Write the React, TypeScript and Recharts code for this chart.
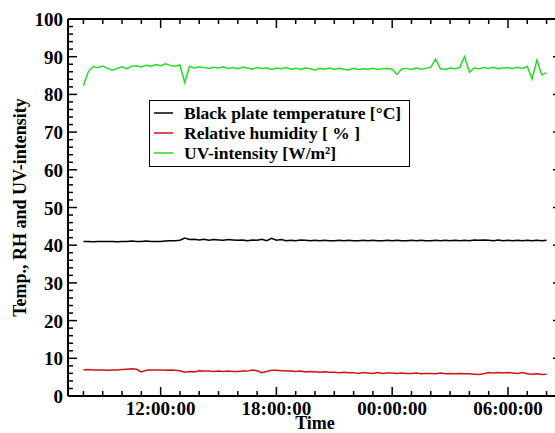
import React from 'react';
import { LineChart, Line, XAxis, YAxis, Legend } from 'recharts';

// Time in hours since 00:00 of the first day (15-minute samples)
const times = [
  8, 8.25, 8.5, 8.75, 9, 9.25, 9.5, 9.75, 10, 10.25, 10.5, 10.75,
  11, 11.25, 11.5, 11.75, 12, 12.25, 12.5, 12.75, 13, 13.25, 13.5, 13.75,
  14, 14.25, 14.5, 14.75, 15, 15.25, 15.5, 15.75, 16, 16.25, 16.5, 16.75,
  17, 17.25, 17.5, 17.75, 18, 18.25, 18.5, 18.75, 19, 19.25, 19.5, 19.75,
  20, 20.25, 20.5, 20.75, 21, 21.25, 21.5, 21.75, 22, 22.25, 22.5, 22.75,
  23, 23.25, 23.5, 23.75, 24, 24.25, 24.5, 24.75, 25, 25.25, 25.5, 25.75,
  26, 26.25, 26.5, 26.75, 27, 27.25, 27.5, 27.75, 28, 28.25, 28.5, 28.75,
  29, 29.25, 29.5, 29.75, 30, 30.25, 30.5, 30.75, 31, 31.25, 31.5, 31.75,
  32,
];

const blackPlate = [
  41.0, 41.0, 40.9, 41.0, 41.0, 41.0, 41.0, 40.9, 41.0, 41.0, 41.1, 41.0,
  41.0, 41.1, 41.0, 41.0, 41.0, 41.1, 41.2, 41.2, 41.3, 41.9, 41.5, 41.6,
  41.4, 41.6, 41.3, 41.5, 41.4, 41.3, 41.5, 41.4, 41.3, 41.4, 41.2, 41.4,
  41.3, 41.6, 41.2, 41.8, 41.3, 41.5, 41.2, 41.3, 41.2, 41.4, 41.3, 41.2,
  41.3, 41.2, 41.3, 41.2, 41.2, 41.3, 41.2, 41.3, 41.2, 41.2, 41.3, 41.2,
  41.3, 41.2, 41.2, 41.3, 41.2, 41.3, 41.2, 41.2, 41.3, 41.2, 41.3, 41.2,
  41.2, 41.3, 41.2, 41.3, 41.2, 41.3, 41.2, 41.3, 41.2, 41.4, 41.3, 41.4,
  41.3, 41.2, 41.4, 41.2, 41.3, 41.2, 41.3, 41.2, 41.3, 41.2, 41.3, 41.2,
  41.3,
];

const humidity = [
  6.9, 7.0, 6.9, 6.9, 6.9, 6.8, 6.9, 6.9, 7.0, 7.1, 7.2, 7.1,
  6.4, 6.8, 6.9, 6.9, 6.9, 6.8, 6.9, 6.8, 6.7, 6.3, 6.5, 6.4,
  6.7, 6.6, 6.6, 6.5, 6.6, 6.5, 6.6, 6.5, 6.5, 6.6, 6.6, 6.9,
  6.7, 6.2, 6.5, 6.8, 6.8, 6.7, 6.6, 6.6, 6.5, 6.6, 6.4, 6.5,
  6.4, 6.3, 6.4, 6.3, 6.3, 6.2, 6.3, 6.2, 6.2, 6.0, 6.2, 6.1,
  6.0, 6.2, 6.0, 6.1, 6.1, 6.0, 6.1, 6.0, 6.0, 6.1, 5.9, 6.0,
  6.0, 5.9, 6.1, 5.9, 6.0, 5.9, 6.0, 5.9, 5.9, 5.8, 5.7, 5.9,
  6.2, 6.1, 6.2, 6.1, 6.2, 6.1, 6.0, 6.2, 5.9, 5.8, 5.9, 5.7,
  5.8,
];

const uvIntensity = [
  82.3, 86.0, 87.4, 87.1, 87.5, 86.9, 86.4, 86.9, 87.3, 86.8, 87.5, 87.6,
  87.3, 87.7, 87.5, 87.9, 87.6, 88.1, 87.7, 87.5, 87.8, 83.1, 87.4, 87.0,
  87.3, 87.1, 86.9, 87.2, 87.0, 87.3, 86.9, 87.1, 86.8, 87.2, 87.0, 86.7,
  87.1, 86.9, 87.0, 86.6, 87.0, 86.8, 87.1, 86.7, 86.9, 86.6, 87.0, 86.8,
  86.5, 86.9, 86.7, 87.0, 86.6, 86.9, 86.7, 86.5, 86.9, 86.6, 86.8, 86.7,
  86.9, 86.6, 86.8, 86.9, 86.7, 85.3, 86.8, 86.9, 86.6, 87.0, 86.7, 86.9,
  87.2, 89.4, 86.8, 86.6, 87.0, 86.8, 87.1, 90.0, 85.9, 87.0, 86.8, 87.1,
  86.9, 87.2, 86.8, 87.0, 87.1, 86.9, 87.2, 86.9, 87.4, 84.1, 89.1, 85.2,
  85.7,
];

const yTicks = [
  0, 2, 4, 6, 8, 10, 12, 14, 16, 18, 20, 22, 24, 26, 28, 30, 32, 34, 36, 38, 40,
  42, 44, 46, 48, 50, 52, 54, 56, 58, 60, 62, 64, 66, 68, 70, 72, 74, 76, 78, 80,
  82, 84, 86, 88, 90, 92, 94, 96, 98, 100,
];
const yLabelTicks = [0, 10, 20, 30, 40, 50, 60, 70, 80, 90, 100];
const xTicks = [
  8, 9, 10, 11, 12, 13, 14, 15, 16, 17, 18, 19, 20, 21, 22, 23, 24, 25, 26, 27,
  28, 29, 30, 31, 32,
];
const xMajorTicks = [12, 18, 24, 30];
const xMajorLabels = ['12:00:00', '18:00:00', '00:00:00', '06:00:00'];

const seriesNames = [
  'Black plate temperature [°C]',
  'Relative humidity [ % ]',
  'UV-intensity [W/m²]',
];
const seriesColors = ['#000000', '#d01414', '#22dd22'];

const data = times.map((t, i) => ({
  t,
  bp: blackPlate[i],
  rh: humidity[i],
  uv: uvIntensity[i],
}));

const FONT = '"Liberation Serif", "Times New Roman", Times, serif';
const MAJOR = 9;
const MINOR = 5;
const TICK_W = 1.5;

const BottomTick = (props: any) => {
  const { x, y, payload } = props;
  const mi = xMajorTicks.indexOf(payload.value);
  const len = mi >= 0 ? MAJOR : MINOR;
  return (
    <g>
      <line x1={x} x2={x} y1={y} y2={y - len} stroke="#000" strokeWidth={TICK_W} />
      {mi >= 0 && (
        <text x={x} y={y + 19} textAnchor="middle" fontFamily={FONT} fontWeight="bold" fontSize={19} fill="#000">
          {xMajorLabels[mi]}
        </text>
      )}
    </g>
  );
};

const TopTick = (props: any) => {
  const { x, y, payload } = props;
  const len = xMajorTicks.indexOf(payload.value) >= 0 ? MAJOR : MINOR;
  return <line x1={x} x2={x} y1={y} y2={y + len} stroke="#000" strokeWidth={TICK_W} />;
};

const LeftTick = (props: any) => {
  const { x, y, payload } = props;
  const major = yLabelTicks.indexOf(payload.value) >= 0;
  const len = major ? MAJOR : MINOR;
  return (
    <g>
      <line x1={x} x2={x + len} y1={y} y2={y} stroke="#000" strokeWidth={TICK_W} />
      {major && (
        <text x={x - 5} y={y + 7} textAnchor="end" fontFamily={FONT} fontWeight="bold" fontSize={19} fill="#000">
          {payload.value}
        </text>
      )}
    </g>
  );
};

const RightTick = (props: any) => {
  const { x, y, payload } = props;
  const len = yLabelTicks.indexOf(payload.value) >= 0 ? MAJOR : MINOR;
  return <line x1={x} x2={x - len} y1={y} y2={y} stroke="#000" strokeWidth={TICK_W} />;
};

const YTitle = (props: any) => {
  const vb = props.viewBox || {};
  const cy = vb.y + vb.height / 2;
  return (
    <text
      x={26}
      y={cy}
      transform={`rotate(-90, 26, ${cy})`}
      textAnchor="middle"
      fontFamily={FONT}
      fontWeight="bold"
      fontSize={18}
      fill="#000"
    >
      Temp., RH and UV-intensity
    </text>
  );
};

const XTitle = (props: any) => {
  const vb = props.viewBox || {};
  const cx = vb.x + vb.width / 2;
  return (
    <text x={cx} y={429} textAnchor="middle" fontFamily={FONT} fontWeight="bold" fontSize={18} fill="#000">
      Time
    </text>
  );
};

const LegendBox = (props: any) => {
  const payload = props.payload || [];
  return (
    <div
      style={{
        border: '1.5px solid #000',
        background: '#fff',
        padding: '2px 8px 3px 4px',
        fontFamily: FONT,
        fontWeight: 'bold',
        fontSize: 17.5,
        lineHeight: '20px',
      }}
    >
      {payload.map((p: any, i: number) => (
        <div key={i} style={{ display: 'flex', alignItems: 'center', height: 20, whiteSpace: 'nowrap' }}>
          <svg width={19} height={4} style={{ display: 'block' }}>
            <line x1={0} x2={19} y1={2} y2={2} stroke={p.color} strokeWidth={1.5} />
          </svg>
          <span style={{ marginLeft: 11, color: '#000' }}>{p.value}</span>
        </div>
      ))}
    </div>
  );
};

export default function App() {
  return (
    <div style={{ position: 'absolute', left: 0, top: 0, width: 555, height: 433, overflow: 'hidden', background: '#fff' }}>
      <LineChart width={565} height={433} data={data} margin={{ top: 0, right: 0, bottom: 0, left: 0 }}>
        <XAxis
          xAxisId="b"
          dataKey="t"
          type="number"
          domain={[7.2, 32.8]}
          allowDataOverflow
          ticks={xTicks}
          interval={0}
          tickSize={0}
          tickMargin={0}
          tickLine={false}
          tick={<BottomTick />}
          axisLine={{ stroke: '#000', strokeWidth: 2 }}
          height={37}
          label={<XTitle />}
        />
        <XAxis
          xAxisId="t"
          orientation="top"
          dataKey="t"
          type="number"
          domain={[7.2, 32.8]}
          allowDataOverflow
          ticks={xTicks}
          interval={0}
          tickSize={0}
          tickMargin={0}
          tickLine={false}
          tick={<TopTick />}
          axisLine={{ stroke: '#000', strokeWidth: 2 }}
          height={19}
        />
        <YAxis
          yAxisId="l"
          type="number"
          domain={[0, 100]}
          allowDataOverflow
          ticks={yTicks}
          interval={0}
          tickSize={0}
          tickMargin={0}
          tickLine={false}
          tick={<LeftTick />}
          axisLine={{ stroke: '#000', strokeWidth: 2 }}
          width={68}
          label={<YTitle />}
        />
        <YAxis
          yAxisId="r"
          orientation="right"
          type="number"
          domain={[0, 100]}
          allowDataOverflow
          ticks={yTicks}
          interval={0}
          tickSize={0}
          tickMargin={0}
          tickLine={false}
          tick={<RightTick />}
          axisLine={{ stroke: '#000', strokeWidth: 2 }}
          width={3}
        />
        <Legend
          layout="vertical"
          align="center"
          verticalAlign="middle"
          content={<LegendBox />}
          wrapperStyle={{ left: 149, top: 100, width: 'auto', height: 'auto' }}
        />
        <Line
          xAxisId="t"
          yAxisId="r"
          dataKey="bp"
          name={seriesNames[0]}
          stroke={seriesColors[0]}
          strokeWidth={1.5}
          dot={false}
          isAnimationActive={false}
        />
        <Line
          xAxisId="b"
          yAxisId="l"
          dataKey="rh"
          name={seriesNames[1]}
          stroke={seriesColors[1]}
          strokeWidth={1.5}
          dot={false}
          isAnimationActive={false}
        />
        <Line
          xAxisId="b"
          yAxisId="l"
          dataKey="uv"
          name={seriesNames[2]}
          stroke={seriesColors[2]}
          strokeWidth={1.5}
          dot={false}
          isAnimationActive={false}
        />
      </LineChart>
    </div>
  );
}
